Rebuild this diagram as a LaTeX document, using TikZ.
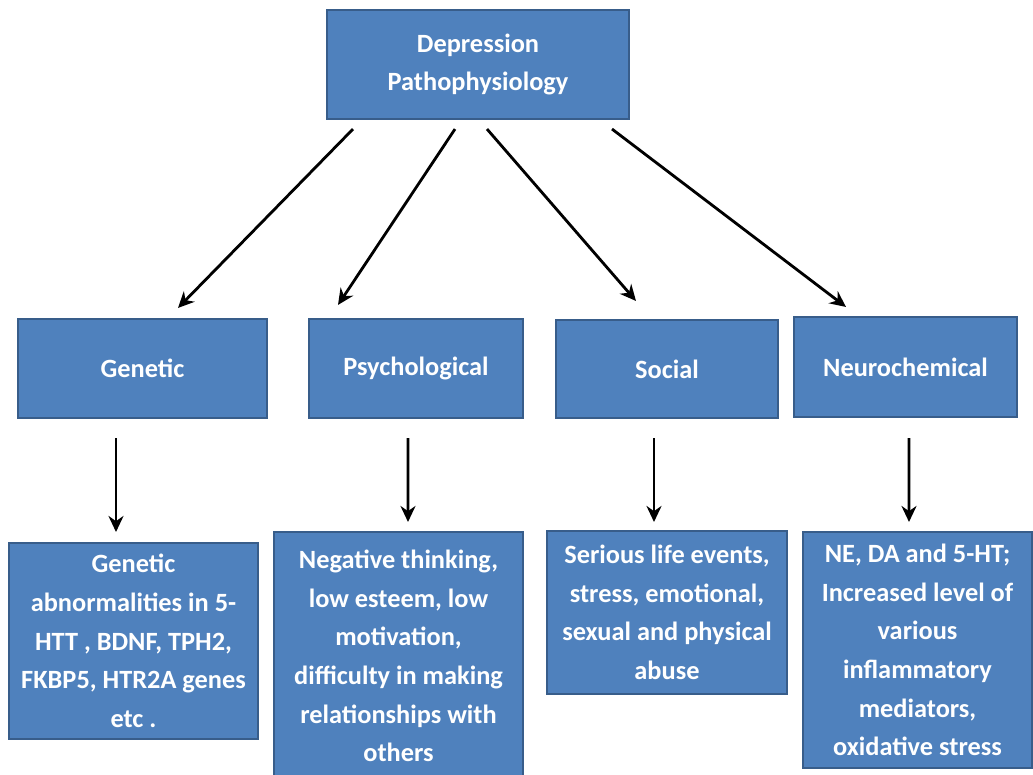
\documentclass[tikz,border=0pt]{standalone}
\usepackage{fontspec}
\setmainfont{Carlito}
\usetikzlibrary{arrows.meta}
\definecolor{boxfill}{HTML}{4F81BD}
\definecolor{boxline}{HTML}{385D8A}
\begin{document}
\begin{tikzpicture}[x=0.02cm, y=-0.02cm,
    every node/.style={draw=boxline, line width=1.2pt, fill=boxfill, text=white,
        align=center, font=\fontsize{15}{22}\selectfont\bfseries},
    arr/.style={draw=black, line width=1.6pt, -{Stealth[length=0.32cm, width=0.3cm]}}
]
\useasboundingbox (0,0) rectangle (1033,774);

% -------- Nodo principal --------
\node[minimum width=6.04cm, minimum height=2.18cm] (top) at (478,64.5)
    {Depression\\Pathophysiology};

% -------- Categorías --------
\node[minimum width=4.98cm, minimum height=1.98cm] (gen) at (142.5,368.5) {Genetic};
\node[minimum width=4.28cm, minimum height=1.98cm] (psy) at (416,368.5) {Psychological};
\node[minimum width=4.44cm, minimum height=1.96cm] (soc) at (667,369) {Social};
\node[minimum width=4.46cm, minimum height=2.0cm] (neu) at (905.5,367) {Neurochemical};

% -------- Detalles --------
\node[minimum width=4.98cm, minimum height=3.92cm] (gend) at (133.5,641)
    {Genetic\\abnormalities in 5-\\HTT , BDNF, TPH2,\\FKBP5, HTR2A genes\\etc .};
\node[minimum width=4.98cm, minimum height=4.96cm] (psyd) at (398.5,656)
    {Negative thinking,\\low esteem, low\\motivation,\\difficulty in making\\relationships with\\others};
\node[minimum width=4.8cm, minimum height=3.26cm] (socd) at (667,612.5)
    {Serious life events,\\stress, emotional,\\sexual and physical\\abuse};
\node[minimum width=4.58cm, minimum height=4.72cm] (neud) at (917.5,650)
    {NE, DA and 5-HT;\\Increased level of\\various\\inflammatory\\mediators,\\oxidative stress};

% Flechas diagonales
\draw[arr] ([shift={(-125,9)}]top.south) -- ([shift={(35.5,-10)}]gen.north);
\draw[arr] ([shift={(-23,9)}]top.south) -- ([shift={(-78,-13)}]psy.north);
\draw[arr] ([shift={(9,9)}]top.south) -- ([shift={(-31,-18)}]soc.north);
\draw[arr] ([shift={(134,9)}]top.south) -- ([shift={(-59.5,-9)}]neu.north);

% Flechas verticales
\draw[arr] ([shift={(-26.5,19)}]gen.south) -- ([shift={(-17.5,-10)}]gend.north);
\draw[arr] ([shift={(-8,19)}]psy.south) -- ([shift={(9.5,-9)}]psyd.north);
\draw[arr] ([shift={(-13,19)}]soc.south) -- ([shift={(-13,-8)}]socd.north);
\draw[arr] ([shift={(3.5,20)}]neu.south) -- ([shift={(-8.5,-9)}]neud.north);
\end{tikzpicture}
\end{document}
